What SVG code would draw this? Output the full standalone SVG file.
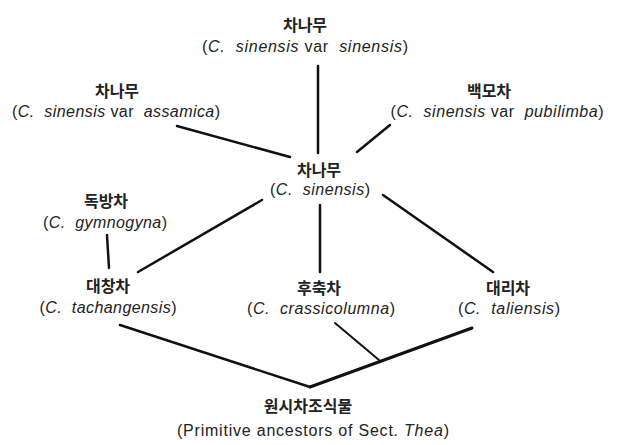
<svg xmlns="http://www.w3.org/2000/svg" width="620" height="445" viewBox="0 0 620 445">
<style>
.ko{font-family:"Noto Sans CJK KR","Noto Sans",sans-serif;font-size:16px;font-weight:bold;fill:#222;text-anchor:middle}
.la{font-family:"Liberation Sans","DejaVu Sans",sans-serif;font-size:16px;fill:#222;text-anchor:middle}
.i{font-style:italic}
.edge{stroke:#111;stroke-width:2.5;stroke-linecap:round;fill:none}
</style>
<rect width="620" height="445" fill="#fff"/>
<g id="connectors">
<line class="edge" x1="318" y1="66" x2="318" y2="153"/>
<line class="edge" x1="177" y1="126" x2="290" y2="157"/>
<line class="edge" x1="390" y1="125" x2="357" y2="152"/>
<line class="edge" x1="262" y1="200" x2="138" y2="272"/>
<line class="edge" x1="320" y1="205" x2="320" y2="272"/>
<line class="edge" x1="383" y1="195" x2="493" y2="272"/>
<line class="edge" x1="107" y1="235" x2="109" y2="268"/>
<line class="edge" x1="120" y1="325" x2="310" y2="387"/>
<line class="edge" style="stroke-width:3" x1="472" y1="328" x2="310" y2="387"/>
<line class="edge" style="stroke-width:2" x1="335" y1="323" x2="379" y2="360"/>
</g>
<g id="n_sinensis_var">
<text class="ko" x="305" y="31">차나무</text>
<text class="la" xml:space="preserve" x="305" y="52" textLength="206" lengthAdjust="spacing">(<tspan class="i">C.</tspan>  <tspan class="i">sinensis</tspan> var  <tspan class="i">sinensis</tspan>)</text>
</g>
<g id="n_assamica">
<text class="ko" x="117" y="97">차나무</text>
<text class="la" xml:space="preserve" x="116" y="117" textLength="208" lengthAdjust="spacing">(<tspan class="i">C.</tspan>  <tspan class="i">sinensis</tspan> var  <tspan class="i">assamica</tspan>)</text>
</g>
<g id="n_pubilimba">
<text class="ko" x="489" y="97">백모차</text>
<text class="la" xml:space="preserve" x="497" y="117" textLength="213" lengthAdjust="spacing">(<tspan class="i">C.</tspan>  <tspan class="i">sinensis</tspan> var  <tspan class="i">pubilimba</tspan>)</text>
</g>
<g id="n_sinensis">
<text class="ko" x="319" y="176">차나무</text>
<text class="la" xml:space="preserve" x="320" y="195" textLength="100" lengthAdjust="spacing">(<tspan class="i">C.</tspan>  <tspan class="i">sinensis</tspan>)</text>
</g>
<g id="n_gymnogyna">
<text class="ko" x="106" y="207">독방차</text>
<text class="la" xml:space="preserve" x="105" y="228" textLength="124" lengthAdjust="spacing">(<tspan class="i">C.</tspan>  <tspan class="i">gymnogyna</tspan>)</text>
</g>
<g id="n_tachangensis">
<text class="ko" x="108" y="292">대창차</text>
<text class="la" xml:space="preserve" x="108" y="313" textLength="137" lengthAdjust="spacing">(<tspan class="i">C.</tspan>  <tspan class="i">tachangensis</tspan>)</text>
</g>
<g id="n_crassicolumna">
<text class="ko" x="319" y="294">후축차</text>
<text class="la" xml:space="preserve" x="321" y="314" textLength="148" lengthAdjust="spacing">(<tspan class="i">C.</tspan>  <tspan class="i">crassicolumna</tspan>)</text>
</g>
<g id="n_taliensis">
<text class="ko" x="508" y="294">대리차</text>
<text class="la" xml:space="preserve" x="509" y="314" textLength="102" lengthAdjust="spacing">(<tspan class="i">C.</tspan>  <tspan class="i">taliensis</tspan>)</text>
</g>
<g id="n_root">
<text class="ko" x="308" y="412">원시차조식물</text>
<text class="la" x="313" y="436" textLength="272" lengthAdjust="spacing">(Primitive ancestors of Sect. <tspan class="i">Thea</tspan>)</text>
</g>
</svg>
